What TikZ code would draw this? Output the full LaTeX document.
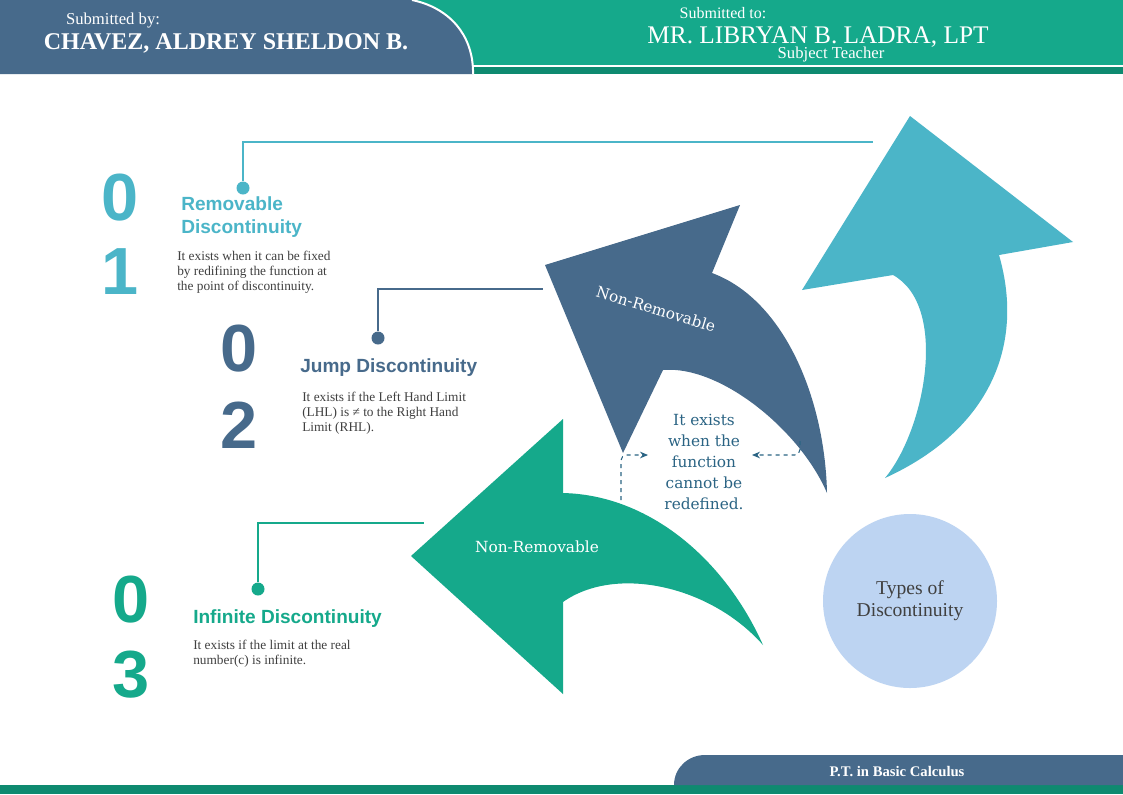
\documentclass[tikz,border=0pt]{standalone}
\usepackage{fontspec}
\setmainfont{Liberation Serif}
\setsansfont{Liberation Sans}
\newfontfamily\slabfont{DejaVu Serif}
\usetikzlibrary{arrows.meta,positioning}
\usepackage{xcolor}
\definecolor{slate}{HTML}{476A8B}
\definecolor{jade}{HTML}{15A98B}
\definecolor{jadedark}{HTML}{0E8A70}
\definecolor{aqua}{HTML}{4BB5C8}
\definecolor{pale}{HTML}{BDD4F2}
\definecolor{ink}{HTML}{404040}
\definecolor{note}{HTML}{2B6484}

\begin{document}
\begin{tikzpicture}[x=0.75pt,y=-0.75pt,
  digit/.style={font=\sffamily\bfseries\fontsize{50}{50}\selectfont},
  heading/.style={anchor=base west,align=left,inner sep=0pt,font=\sffamily\bfseries\fontsize{14.3}{17.25}\selectfont},
  desc/.style={anchor=base west,align=left,inner sep=0pt,text=ink,font=\fontsize{10}{11.25}\selectfont},
  headtext/.style={anchor=base,text=white,inner sep=0pt},
  leader/.style={line width=1.5pt},
  dot/.style={circle,fill,inner sep=0pt,minimum size=9.75pt},
  hint/.style={note,thick,dashed,rounded corners=4,-{Stealth[length=6pt,width=5pt]}}]
  \useasboundingbox (0,0) rectangle (1123,794);
  \fill[white] (0,0) rectangle (1123,794);

  % Header: submitted by / submitted to
  \fill[jade] (0,0) rectangle (1123,65);
  \fill[jadedark] (0,67) rectangle (1123,74);
  \fill[slate] (0,0) -- (412,0) .. controls (450,8) and (472,35) .. (473,70) -- (473,74) -- (0,74) -- cycle;
  \draw[white,line width=1.5pt] (412,0) .. controls (450,8) and (472,35) .. (473,70) -- (473,74);
  \node[headtext,font=\fontsize{12.5}{12.5}\selectfont] (bylabel) at (113,24) {Submitted by:};
  \node[headtext,font=\bfseries\fontsize{18}{18}\selectfont] (student) at (226,49) {CHAVEZ, ALDREY SHELDON B.};
  \node[headtext,font=\fontsize{12}{12}\selectfont] (tolabel) at (723,18) {Submitted to:};
  \node[headtext,font=\fontsize{19}{19}\selectfont] (teacher) at (818,43) {MR. LIBRYAN B. LADRA, LPT};
  \node[headtext,font=\fontsize{12.5}{12.5}\selectfont] (role) at (831,58) {Subject Teacher};

  % Footer
  \fill[jadedark] (0,785) rectangle (1123,794);
  \fill[slate] (674,785) .. controls (674,768) and (688,755) .. (705,755) -- (1123,755) -- (1123,785) -- cycle;
  \node[headtext,font=\bfseries\fontsize{11}{11}\selectfont] (course) at (897,776) {P.T. in Basic Calculus};

  % Curved arrows
  \fill[aqua] (910,116) -- (1073,242) -- (999,255) .. controls (1025,345) and (990,430) .. (885,478)
    .. controls (925,430) and (949,306) .. (893,275) -- (802,290) -- cycle;
  \fill[slate] (545,265) -- (740,205) -- (712,273) .. controls (785,300) and (825,400) .. (827,493)
    .. controls (800,430) and (720,365) .. (663,370) -- (623,453) -- cycle;
  \fill[jade] (411,556) -- (563,419) -- (563,493) .. controls (650,495) and (725,560) .. (763,645)
    .. controls (710,585) and (615,565) .. (563,602) -- (563,694) -- cycle;
  \node[text=white,font=\slabfont\fontsize{11.5}{11.5}\selectfont,rotate=-17] (jumplabel) at (656,309) {Non-Removable};
  \node[text=white,font=\slabfont\fontsize{11.5}{11.5}\selectfont] (inflabel) at (537,547) {Non-Removable};

  % Note between the arrows (base = last line)
  \node[anchor=base,align=center,inner sep=0pt,text=note,font=\slabfont\fontsize{11.5}{15.75}\selectfont] (exists) at (704,509)
    {It exists\\when the\\function\\cannot be\\redefined.};
  \coordinate (jadeedge) at (621,500);
  \coordinate (slateedge) at (800,441);
  \coordinate (existsL) at (648,455);
  \coordinate (existsR) at (752,455);
  \draw[hint] (jadeedge) |- (existsL);
  \draw[hint] (slateedge) |- (existsR);

  % Types circle
  \node[circle,fill=pale,minimum size=130.5pt,inner sep=0pt,align=center,text=ink,
    font=\fontsize{14.7}{16.5}\selectfont] (types) at (910,601) {Types of\\Discontinuity};

  % 01: removable
  \node[digit,text=aqua] (num1a) at (120,198) {0};
  \node[digit,text=aqua] (num1b) at (120,272) {1};
  \node[heading,text=aqua] (head1) at (181,233) {Removable\\Discontinuity};
  \node[desc] (desc1) at (177,290) {It exists when it can be fixed\\by redifining the function at\\the point of discontinuity.};
  \node[dot,fill=aqua] (pin1) at (243,188) {};
  \coordinate (end1) at (873,142);
  \draw[leader,aqua] (pin1) |- (end1);

  % 02: jump
  \node[digit,text=slate] (num2a) at (239,349) {0};
  \node[digit,text=slate] (num2b) at (239,425) {2};
  \node[heading,text=slate] (head2) at (300,372) {Jump Discontinuity};
  \node[desc] (desc2) at (302,431) {It exists if the Left Hand Limit\\(LHL) is ≠ to the Right Hand\\Limit (RHL).};
  \node[dot,fill=slate] (pin2) at (378,338) {};
  \coordinate (end2) at (543,289);
  \draw[leader,slate] (pin2) |- (end2);

  % 03: infinite
  \node[digit,text=jade] (num3a) at (131,600) {0};
  \node[digit,text=jade] (num3b) at (131,675) {3};
  \node[heading,text=jade] (head3) at (193,623) {Infinite Discontinuity};
  \node[desc] (desc3) at (193,664) {It exists if the limit at the real\\number(c) is infinite.};
  \node[dot,fill=jade] (pin3) at (258,589) {};
  \coordinate (end3) at (424,523);
  \draw[leader,jade] (pin3) |- (end3);
\end{tikzpicture}
\end{document}
